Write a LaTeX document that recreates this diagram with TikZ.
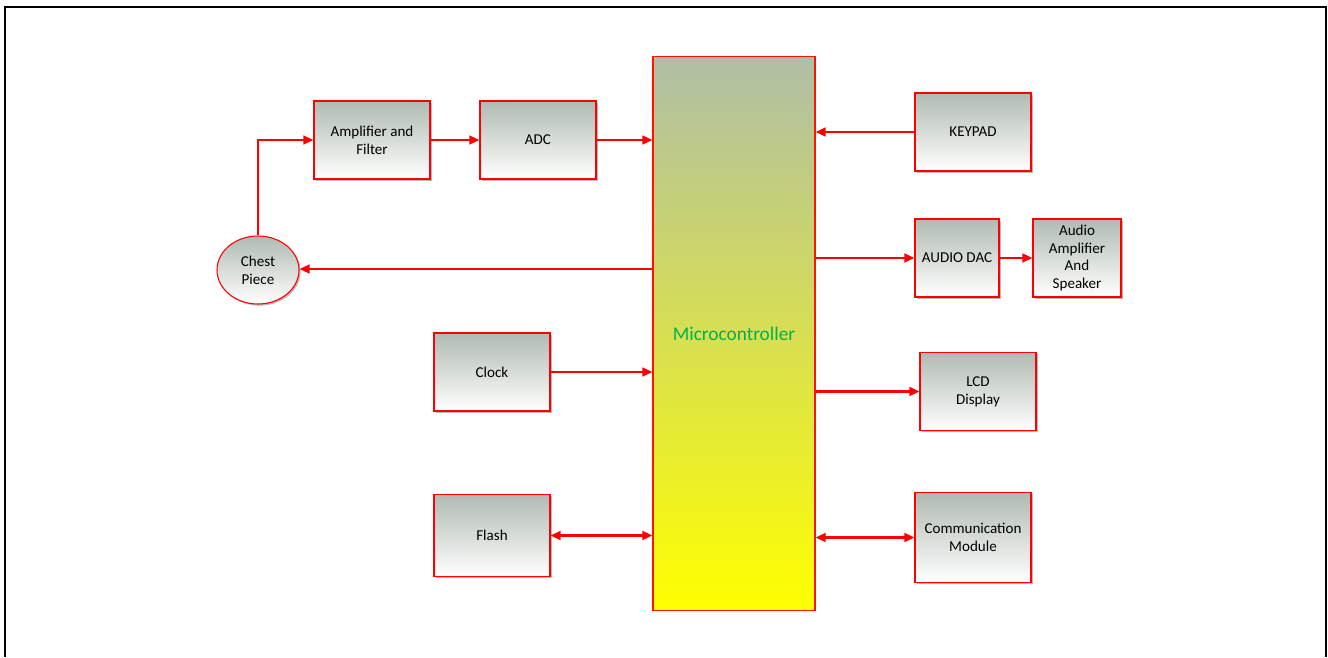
\documentclass[tikz,border=0pt]{standalone}
\usepackage{fontspec}
\setmainfont{Carlito}
\usepackage{xcolor}
\usepackage{tikz}
\usetikzlibrary{arrows.meta,shadows,shapes.geometric}

\definecolor{boxtop}{RGB}{176,186,178}
\definecolor{mctop}{RGB}{176,190,166}
\definecolor{mcgreen}{RGB}{0,176,80}

\begin{document}
\begin{tikzpicture}[
  x=0.75pt, y=-0.75pt,
  blk/.style={draw=red, line width=0.8pt, top color=boxtop, bottom color=white,
              align=center, minimum width=87pt, minimum height=58.5pt, inner sep=2pt,
              font=\fontsize{11.3}{13.3}\selectfont,
              drop shadow={shadow xshift=1.2pt, shadow yshift=-1.2pt, fill=black!35, opacity=0.8}},
  ell/.style={blk, ellipse, minimum width=61.5pt, minimum height=51pt, inner sep=0pt},
  mcu/.style={draw=red!85!orange, line width=0.8pt, top color=mctop, bottom color=yellow,
              minimum width=121.5pt, minimum height=415pt, inner sep=0pt,
              font=\fontsize{14.5}{16}\selectfont, text=mcgreen},
  fl/.style={-{Triangle[length=7.5pt,width=6.5pt]}, draw=red, line width=1.7pt},
  bi/.style={fl, {Triangle[length=7.5pt,width=6.5pt]}-{Triangle[length=7.5pt,width=6.5pt]}},
]
\useasboundingbox (0,0) rectangle (1328,657);

% frame (open at the bottom)
\draw[line width=1.6pt] (5,657) -- (5,7) -- (1326,7) -- (1326,657);

% ============ centre ========================================================
\node[mcu] (mcu) at (734,333.5) {Microcontroller};

% ============ left side =====================================================
\node[blk] (amp)   at (372,140)   {Amplifier and\\Filter};
\node[blk] (adc)   at (538,140)   {ADC};
\node[ell] (chest) at (258,270)   {Chest\\Piece};
\node[blk] (clk)   at (492,372)   {Clock};
\node[blk, minimum height=62pt] (flash) at (492,535.5) {Flash};

% ============ right side ====================================================
\node[blk] (keys)  at (973,132)   {KEYPAD};
\node[blk, minimum width=63pt] (dac) at (957,258) {AUDIO DAC};
\node[blk, minimum width=66pt] (spk) at (1077,258) {Audio\\Amplifier\\And\\Speaker};
\node[blk, minimum height=59pt] (lcd) at (978,391.5) {LCD\\Display};
\node[blk, minimum height=67pt] (comm) at (973,537.5) {Communication\\Module};

% ============ flows =========================================================
\draw[fl] (chest.north) |- (amp.west);
\draw[fl] (amp) -- (adc);
\draw[fl] (adc.east) -- (adc.east -| mcu.west);
\draw[fl] (mcu.west |- 0,269) -- (chest.east |- 0,269);
\draw[fl] (clk.east) -- (clk.east -| mcu.west);
\draw[bi] (flash.east) -- (flash.east -| mcu.west);

\draw[fl] (keys.west) -- (keys.west -| mcu.east);
\draw[fl] (dac.west -| mcu.east) -- (dac.west);
\draw[fl] (dac) -- (spk);
\draw[fl] (lcd.west -| mcu.east) -- (lcd.west);
\draw[bi] (comm.west -| mcu.east) -- (comm.west);

\end{tikzpicture}
\end{document}
